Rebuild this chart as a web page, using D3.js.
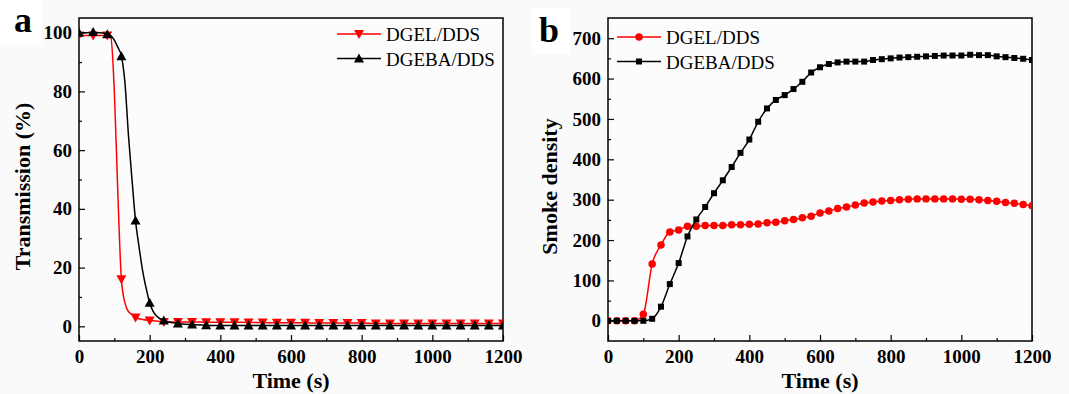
<!DOCTYPE html>
<html>
<head>
<meta charset="utf-8">
<script src="https://cdn.jsdelivr.net/npm/d3@7"></script>
<style>
  body { margin: 0; background: #fafafa; }
  svg { display: block; }
  svg text { font-family: "Liberation Serif", "Times New Roman", serif; }
</style>
</head>
<body>
<svg id="chart" width="1069" height="394"></svg>
<script>
// panel a: transmission (%), line sampled every 10 s near the drop
const transTimeGel = [0, 10, 20, 30, 40, 50, 60, 70, 80, 90, 100, 110, 120, 130, 140, 150, 160, 180, 200, 220, 240, 280, 320, 360, 400, 440, 480, 520, 560, 600, 640, 680, 720, 760, 800, 840, 880, 920, 960, 1000, 1040, 1080, 1120, 1160, 1200];
const transGel = [99, 99, 99, 99, 99, 99, 99, 99, 99, 98.5, 80, 45, 16, 8, 5, 4, 3, 2.3, 2, 1.8, 1.5, 1.5, 1.5, 1.4, 1.4, 1.4, 1.3, 1.3, 1.2, 1.2, 1.2, 1.1, 1.1, 1.1, 1.1, 1.0, 1.0, 1.0, 1.0, 1.0, 1.0, 1.0, 1.0, 1.0, 1.0];
const transTimeBa = [0, 10, 20, 30, 40, 50, 60, 70, 80, 90, 100, 110, 120, 130, 140, 150, 160, 170, 180, 190, 200, 210, 220, 230, 240, 260, 280, 320, 360, 400, 440, 480, 520, 560, 600, 640, 680, 720, 760, 800, 840, 880, 920, 960, 1000, 1040, 1080, 1120, 1160, 1200];
const transBa = [100, 100, 100, 100, 100.2, 100, 100, 99.8, 99.5, 99, 97.5, 95, 92, 83, 65, 50, 36, 27, 19, 13, 8, 5, 3.5, 2.5, 2, 1.3, 1, 0.6, 0.4, 0.3, 0.3, 0.3, 0.3, 0.3, 0.3, 0.3, 0.3, 0.3, 0.3, 0.3, 0.3, 0.3, 0.3, 0.3, 0.3, 0.3, 0.3, 0.3, 0.3, 0.3];

// panel b: smoke density, every 25 s
const smokeTime = d3.range(0, 1201, 25);
const smokeGel = [0, 0, 0, 0, 16, 141, 188, 220, 225, 234, 234, 236, 236, 236, 238, 238, 239, 240, 243, 244, 248, 251, 255, 259, 267, 272, 278, 282, 287, 292, 294, 297, 298, 300, 301, 302, 302, 302, 302, 302, 301, 301, 300, 298, 296, 293, 291, 288, 285];
const smokeBa = [0, 0, 0, 0, 0, 5, 35, 91, 143, 209, 251, 282, 316, 348, 381, 416, 449, 493, 526, 547, 559, 574, 592, 615, 628, 636, 640, 642, 642, 642, 646, 648, 650, 652, 653, 654, 655, 656, 657, 657, 657, 659, 658, 658, 655, 653, 651, 649, 646];

const seriesNames = ["DGEL/DDS", "DGEBA/DDS"];
const seriesColors = ["#ff0000", "#000000"];

const svg = d3.select("#chart");

// white patches behind the panel letters
svg.append("rect").attr("x", 0).attr("y", 0).attr("width", 42).attr("height", 44).attr("fill", "#fff");
svg.append("rect").attr("x", 532).attr("y", 8).attr("width", 38).attr("height", 46).attr("fill", "#fff");

function panel(opt) {
  const g = svg.append("g");
  const x = d3.scaleLinear().domain([0, 1200]).range([opt.left, opt.right]);
  const y = d3.scaleLinear().domain(opt.yDomain).range([opt.bottom, opt.top]);

  g.append("rect")
    .attr("x", opt.left).attr("y", opt.top)
    .attr("width", opt.right - opt.left).attr("height", opt.bottom - opt.top)
    .attr("fill", "#fcfcfc");

  // minor ticks
  g.append("g").attr("transform", `translate(0,${opt.bottom})`)
    .call(d3.axisBottom(x).tickValues(d3.range(100, 1200, 200)).tickSize(-3).tickFormat(""))
    .call(a => a.select(".domain").remove());
  g.append("g").attr("transform", `translate(${opt.left},0)`)
    .call(d3.axisLeft(y).tickValues(opt.yMinor).tickSize(-3).tickFormat(""))
    .call(a => a.select(".domain").remove());

  const xAxis = g.append("g").attr("transform", `translate(0,${opt.bottom})`)
    .call(d3.axisBottom(x).tickValues(d3.range(0, 1201, 200)).tickFormat(d3.format("d"))
      .tickSize(-6).tickPadding(9));
  const yAxis = g.append("g").attr("transform", `translate(${opt.left},0)`)
    .call(d3.axisLeft(y).tickValues(opt.yTicks).tickSize(-6).tickPadding(7));
  [xAxis, yAxis].forEach(a => {
    a.attr("font-family", null).attr("font-size", null);
    a.select(".domain").remove();
    a.selectAll("text").attr("font-size", 19).attr("font-weight", "bold").attr("fill", "#000");
  });
  g.selectAll(".tick line").attr("stroke", "#000").attr("stroke-width", 1.2);

  // frame
  g.append("rect")
    .attr("x", opt.left).attr("y", opt.top)
    .attr("width", opt.right - opt.left).attr("height", opt.bottom - opt.top)
    .attr("fill", "none").attr("stroke", "#000").attr("stroke-width", 1.5);

  const clip = "clip" + opt.id;
  g.append("clipPath").attr("id", clip).append("rect")
    .attr("x", opt.left).attr("y", opt.top)
    .attr("width", opt.right - opt.left).attr("height", opt.bottom - opt.top);

  const line = d3.line().x(d => x(d[0])).y(d => y(d[1])).curve(d3.curveMonotoneX);
  const plot = g.append("g").attr("clip-path", `url(#${clip})`);

  opt.series.forEach((s, i) => {
    const pts = s.t.map((t, k) => [t, s.v[k]]);
    plot.append("path").datum(pts)
      .attr("d", line).attr("fill", "none")
      .attr("stroke", seriesColors[i]).attr("stroke-width", 1.5);
    const marks = pts.filter(p => p[0] % opt.markStep === 0);
    plot.selectAll(null).data(marks).enter().append("path")
      .attr("transform", d => `translate(${x(d[0])},${y(d[1])})`)
      .attr("d", opt.symbols[i])
      .attr("fill", seriesColors[i]);
  });

  // legend
  seriesNames.forEach((name, i) => {
    const ly = opt.legY + i * 24.5;
    g.append("line").attr("x1", opt.legX).attr("x2", opt.legX + 44)
      .attr("y1", ly).attr("y2", ly)
      .attr("stroke", seriesColors[i]).attr("stroke-width", 1.5);
    g.append("path").attr("transform", `translate(${opt.legX + 22},${ly})`)
      .attr("d", opt.symbols[i]).attr("fill", seriesColors[i]);
    g.append("text").attr("x", opt.legX + 49).attr("y", ly + 7)
      .attr("font-size", 19).text(name);
  });

  g.append("text")
    .attr("x", (opt.left + opt.right) / 2).attr("y", 388)
    .attr("text-anchor", "middle").attr("font-size", 22).attr("font-weight", "bold")
    .text("Time (s)");
  g.append("text")
    .attr("transform", `translate(${opt.yLabelX},${(opt.top + opt.bottom) / 2 + 7}) rotate(-90)`)
    .attr("text-anchor", "middle").attr("font-size", 22).attr("font-weight", "bold")
    .text(opt.yLabel);
  g.append("text").attr("x", opt.letterX).attr("y", opt.letterY)
    .attr("font-size", 36).attr("font-weight", "bold").text(opt.letter);
}

const triDown = "M-5,-4L5,-4L0,5Z";
const triUp = "M-5,4L5,4L0,-5Z";

panel({
  id: "a", left: 79, right: 503, top: 18, bottom: 341,
  yDomain: [-5, 105], yTicks: d3.range(0, 101, 20), yMinor: d3.range(10, 100, 20),
  series: [{ t: transTimeGel, v: transGel }, { t: transTimeBa, v: transBa }],
  symbols: [triDown, triUp], markStep: 40,
  legX: 337, legY: 34, yLabel: "Transmission (%)", yLabelX: 30,
  letter: "a", letterX: 14, letterY: 32
});

panel({
  id: "b", left: 608, right: 1032, top: 18, bottom: 341,
  yDomain: [-50, 750], yTicks: d3.range(0, 701, 100), yMinor: d3.range(50, 750, 100),
  series: [{ t: smokeTime, v: smokeGel }, { t: smokeTime, v: smokeBa }],
  symbols: [d3.symbol(d3.symbolCircle, 44)(), d3.symbol(d3.symbolSquare, 36)()], markStep: 25,
  legX: 617, legY: 37, yLabel: "Smoke density", yLabelX: 557,
  letter: "b", letterX: 539, letterY: 42
});
</script>
</body>
</html>
